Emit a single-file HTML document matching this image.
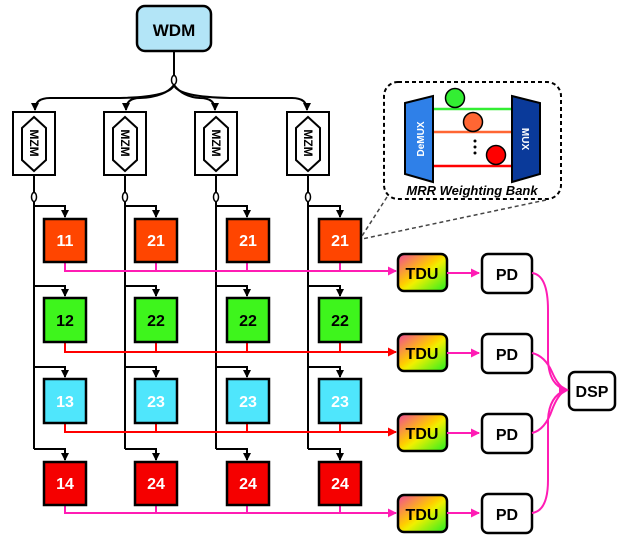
<!DOCTYPE html>
<html><head><style>body{margin:0;background:#fff}svg{display:block}text{font-family:"Liberation Sans",sans-serif;font-weight:bold}</style></head><body>
<svg width="623" height="538" viewBox="0 0 623 538" xmlns="http://www.w3.org/2000/svg">
<defs>
<marker id="ak" markerWidth="8" markerHeight="8" refX="7" refY="4" orient="auto" markerUnits="userSpaceOnUse"><path d="M0,0L8,4L0,8z" fill="#000"/></marker>
<marker id="ap" markerWidth="9" markerHeight="9" refX="8" refY="4.5" orient="auto" markerUnits="userSpaceOnUse"><path d="M0,0L9,4.5L0,9z" fill="#ff1cb4"/></marker>
<marker id="ar" markerWidth="9" markerHeight="9" refX="8" refY="4.5" orient="auto" markerUnits="userSpaceOnUse"><path d="M0,0L9,4.5L0,9z" fill="#f00"/></marker>
<linearGradient id="tg" x1="0" y1="0" x2="1" y2="1"><stop offset="0" stop-color="#f0489a"/><stop offset="0.45" stop-color="#ffcc00"/><stop offset="0.55" stop-color="#f0f000"/><stop offset="1" stop-color="#22ee22"/></linearGradient>
<linearGradient id="wg" x1="0" x2="1"><stop offset="0" stop-color="#f00"/><stop offset="0.5" stop-color="#ff0"/><stop offset="1" stop-color="#2e2"/></linearGradient>
</defs>
<!-- WDM -->
<rect x="137" y="6" width="74" height="45" rx="8" fill="#b3e5f7" stroke="#000" stroke-width="2.5"/>
<text x="174" y="36" font-size="17" text-anchor="middle">WDM</text>
<line x1="174" y1="51" x2="174" y2="76" stroke="#000" stroke-width="2"/>
<ellipse cx="174" cy="80" rx="2.5" ry="4.5" fill="#fff" stroke="#000" stroke-width="1.5"/>
<g fill="none" stroke="#000" stroke-width="2">
<path d="M174,85 Q170,97 120,98 L50,98 Q35,98 35,110" marker-end="url(#ak)"/>
<path d="M174,85 Q165,97 140,98 Q126,98 126,110" marker-end="url(#ak)"/>
<path d="M174,85 Q183,97 200,98 Q215,98 215,110" marker-end="url(#ak)"/>
<path d="M174,85 Q178,97 230,98 L292,98 Q307,98 307,110" marker-end="url(#ak)"/>
</g>
<!-- MZMs -->
<g stroke="#000" stroke-width="2" fill="#fff">
<g id="m"><rect x="13" y="112" width="42" height="63"/><path d="M22,128 L34,117 L46,128 L46,160 L34,171 L22,160z"/></g>
<use href="#m" x="91"/><use href="#m" x="182"/><use href="#m" x="274"/>
</g>
<g font-size="12" text-anchor="middle">
<text transform="translate(30,143) rotate(90)">MZM</text>
<text transform="translate(121,143) rotate(90)">MZM</text>
<text transform="translate(212,143) rotate(90)">MZM</text>
<text transform="translate(304,143) rotate(90)">MZM</text>
</g>
<!-- bus verticals -->
<g stroke="#000" stroke-width="2" fill="none">
<line x1="34" y1="175" x2="34" y2="449"/><line x1="125" y1="175" x2="125" y2="449"/><line x1="216" y1="175" x2="216" y2="449"/><line x1="308" y1="175" x2="308" y2="449"/>
</g>
<g fill="#fff" stroke="#000" stroke-width="1.5">
<ellipse cx="34" cy="197" rx="2.5" ry="4.5"/><ellipse cx="125" cy="197" rx="2.5" ry="4.5"/><ellipse cx="216" cy="197" rx="2.5" ry="4.5"/><ellipse cx="308" cy="197" rx="2.5" ry="4.5"/>
</g>
<g stroke="#000" stroke-width="2" fill="none">
<path d="M34,206 H65 V217" marker-end="url(#ak)"/><path d="M125,206 H156 V217" marker-end="url(#ak)"/><path d="M216,206 H247 V217" marker-end="url(#ak)"/><path d="M308,206 H340 V217" marker-end="url(#ak)"/>
<path d="M34,286 H65 V296" marker-end="url(#ak)"/><path d="M125,286 H156 V296" marker-end="url(#ak)"/><path d="M216,286 H247 V296" marker-end="url(#ak)"/><path d="M308,286 H340 V296" marker-end="url(#ak)"/>
<path d="M34,367 H65 V377" marker-end="url(#ak)"/><path d="M125,367 H156 V377" marker-end="url(#ak)"/><path d="M216,367 H247 V377" marker-end="url(#ak)"/><path d="M308,367 H340 V377" marker-end="url(#ak)"/>
<path d="M34,449 H65 V460" marker-end="url(#ak)"/><path d="M125,449 H156 V460" marker-end="url(#ak)"/><path d="M216,449 H247 V460" marker-end="url(#ak)"/><path d="M308,449 H340 V460" marker-end="url(#ak)"/>
</g>
<!-- row lines -->
<g fill="none" stroke-width="2">
<path d="M65,262 V271 H396" stroke="#ff1cb4" marker-end="url(#ap)"/>
<path d="M156,262 V271 M247,262 V271 M340,262 V271" stroke="#ff1cb4"/>
<path d="M65,342 V352 H396" stroke="#f00" marker-end="url(#ar)"/>
<path d="M156,342 V352 M247,342 V352 M340,342 V352" stroke="#f00"/>
<path d="M65,423 V432 H396" stroke="#f00" marker-end="url(#ar)"/>
<path d="M156,423 V432 M247,423 V432 M340,423 V432" stroke="#f00"/>
<path d="M65,505 V513 H396" stroke="#ff1cb4" marker-end="url(#ap)"/>
<path d="M156,505 V513 M247,505 V513 M340,505 V513" stroke="#ff1cb4"/>
</g>
<!-- boxes -->
<g stroke="#000" stroke-width="2.5">
<g fill="#ff4500"><rect x="44" y="219" width="42" height="43"/><rect x="135" y="219" width="42" height="43"/><rect x="227" y="219" width="42" height="43"/><rect x="319" y="219" width="42" height="43"/></g>
<g fill="#3ef51c"><rect x="44" y="298" width="42" height="44"/><rect x="135" y="298" width="42" height="44"/><rect x="227" y="298" width="42" height="44"/><rect x="319" y="298" width="42" height="44"/></g>
<g fill="#4fe6fc"><rect x="44" y="379" width="42" height="44"/><rect x="135" y="379" width="42" height="44"/><rect x="227" y="379" width="42" height="44"/><rect x="319" y="379" width="42" height="44"/></g>
<g fill="#f50000"><rect x="44" y="462" width="42" height="43"/><rect x="135" y="462" width="42" height="43"/><rect x="227" y="462" width="42" height="43"/><rect x="319" y="462" width="42" height="43"/></g>
</g>
<g font-size="16" text-anchor="middle">
<g fill="#fff"><text x="65" y="246">11</text><text x="156" y="246">21</text><text x="248" y="246">21</text><text x="340" y="246">21</text></g>
<g fill="#000"><text x="65" y="326">12</text><text x="156" y="326">22</text><text x="248" y="326">22</text><text x="340" y="326">22</text></g>
<g fill="#fff"><text x="65" y="407">13</text><text x="156" y="407">23</text><text x="248" y="407">23</text><text x="340" y="407">23</text></g>
<g fill="#fff"><text x="65" y="489">14</text><text x="156" y="489">24</text><text x="248" y="489">24</text><text x="340" y="489">24</text></g>
</g>
<!-- TDU / PD -->
<g stroke="#000" stroke-width="2.5">
<rect x="398" y="254" width="49" height="37" rx="6" fill="url(#tg)"/>
<rect x="398" y="334" width="49" height="37" rx="6" fill="url(#tg)"/>
<rect x="398" y="414" width="49" height="37" rx="6" fill="url(#tg)"/>
<rect x="398" y="495" width="49" height="37" rx="6" fill="url(#tg)"/>
<g fill="#fff"><rect x="482" y="254" width="50" height="39" rx="6"/><rect x="482" y="334" width="50" height="39" rx="6"/><rect x="482" y="414" width="50" height="39" rx="6"/><rect x="482" y="494" width="50" height="39" rx="6"/>
<rect x="569" y="372" width="46" height="38" rx="6"/></g>
</g>
<g font-size="16" text-anchor="middle">
<text x="422" y="279">TDU</text><text x="422" y="359">TDU</text><text x="422" y="439">TDU</text><text x="422" y="520">TDU</text>
<text x="507" y="280">PD</text><text x="507" y="360">PD</text><text x="507" y="440">PD</text><text x="507" y="520">PD</text>
<text x="592" y="397">DSP</text>
</g>
<g fill="none" stroke="#ff1cb4" stroke-width="2">
<path d="M447,273 H479" marker-end="url(#ap)"/><path d="M447,353 H479" marker-end="url(#ap)"/><path d="M447,433 H479" marker-end="url(#ap)"/><path d="M447,513 H479" marker-end="url(#ap)"/>
<path d="M532,273 Q548,275 548,310 L548,360 Q549,385 566,390"/>
<path d="M532,353 Q545,356 552,372 Q558,386 566,390"/>
<path d="M532,433 Q545,430 552,410 Q558,394 566,390"/>
<path d="M532,513 Q548,511 548,480 L548,420 Q549,396 566,390"/>
</g>
<path d="M559,384 L569,390 L559,396z" fill="#ff1cb4"/>
<!-- inset -->
<g fill="none" stroke="#444" stroke-width="1.5" stroke-dasharray="4,3">
<rect x="384" y="82" width="177" height="117" rx="14" stroke="#000" stroke-width="2"/>
<line x1="387" y1="197" x2="362" y2="236"/>
<line x1="546" y1="200" x2="362" y2="239"/>
</g>
<line x1="390" y1="139" x2="405" y2="139" stroke="url(#wg)" stroke-width="3"/>
<line x1="540" y1="139" x2="553" y2="139" stroke="url(#wg)" stroke-width="3"/>
<line x1="433" y1="109" x2="512" y2="109" stroke="#3e3" stroke-width="2.5"/>
<line x1="433" y1="132" x2="512" y2="132" stroke="#f63" stroke-width="2.5"/>
<line x1="433" y1="166" x2="512" y2="166" stroke="#f00" stroke-width="2.5"/>
<path d="M405,103 L433,96 L433,182 L405,174z" fill="#2f80e8" stroke="#000" stroke-width="2"/>
<path d="M512,96 L540,103 L540,174 L512,182z" fill="#0a3a9a" stroke="#000" stroke-width="2"/>
<text transform="translate(424,139) rotate(-90)" font-size="10" fill="#fff" text-anchor="middle">DeMUX</text>
<text transform="translate(522,139) rotate(90)" font-size="10" fill="#fff" text-anchor="middle">MUX</text>
<g stroke="#000" stroke-width="1.5"><circle cx="455" cy="98" r="9.5" fill="#3e3"/><circle cx="473" cy="122" r="9.5" fill="#f63"/><circle cx="496" cy="155" r="9.5" fill="#f00"/></g>
<g fill="#000"><circle cx="475" cy="141" r="1.5"/><circle cx="475" cy="147" r="1.5"/><circle cx="475" cy="153" r="1.5"/></g>
<text x="472" y="195" font-size="13" font-style="italic" text-anchor="middle">MRR Weighting Bank</text>
</svg>
</body></html>
